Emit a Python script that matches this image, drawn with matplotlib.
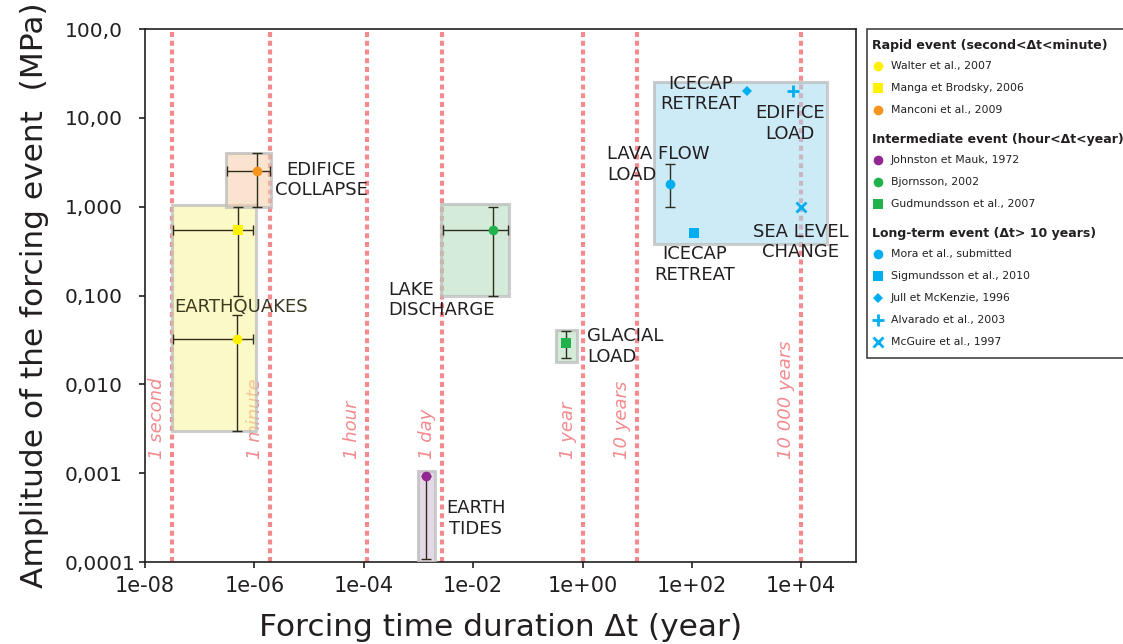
import numpy as np
import matplotlib
matplotlib.use('Agg')
from matplotlib import pyplot as plt
from matplotlib.patches import Rectangle
from matplotlib.ticker import NullLocator
import matplotlib.transforms as mtransforms

# data
# published forcing events (duration in years, amplitude in MPa)
refs = ['Walter et al., 2007', 'Manga et Brodsky, 2006', 'Manconi et al., 2009',
        'Johnston et Mauk, 1972', 'Bjornsson, 2002', 'Gudmundsson et al., 2007',
        'Mora et al., submitted', 'Sigmundsson et al., 2010', 'Jull et McKenzie, 1996',
        'Alvarado et al., 2003', 'McGuire et al., 1997']
ref_group = [0, 0, 0, 1, 1, 1, 2, 2, 2, 2, 2]
ref_marker = ['o', 's', 'o', 'o', 'o', 's', 'o', 's', 'D', '+', 'x']
ref_color = ['#fff200', '#fff200', '#f7941d', '#92278f', '#21b24b', '#21b24b',
             '#00aeef', '#00aeef', '#00aeef', '#00aeef', '#00aeef']
dt = [4.9e-7, 5e-7, 1.1e-6, 1.4e-3, 0.023, 0.5, 40, 110, 1000, 7000, 1e4]
amp = [0.032, 0.55, 2.5, 9.3e-4, 0.55, 0.029, 1.8, 0.5, 20, 20, 1.0]
dt_lo = [3.2e-8, 3.2e-8, 3.2e-7, np.nan, 2.8e-3, np.nan, np.nan, np.nan, np.nan, np.nan, np.nan]
dt_hi = [9.5e-7, 9.5e-7, 1.9e-6, np.nan, 0.043, np.nan, np.nan, np.nan, np.nan, np.nan, np.nan]
amp_lo = [0.003, 0.1, 1.0, 1.07e-4, 0.1, 0.02, 1.0, np.nan, np.nan, np.nan, np.nan]
amp_hi = [0.06, 1.0, 4.0, 9.3e-4, 1.0, 0.04, 3.0, np.nan, np.nan, np.nan, np.nan]

group_titles = ['Rapid event (second<\u0394t<minute)',
                'Intermediate event (hour<\u0394t<year)',
                'Long-term event (\u0394t> 10 years)']

# shaded domains
box_x0 = [3.1e-8, 3.0e-7, 2.6e-3, 0.33, 1.0e-3, 20]
box_x1 = [1.05e-6, 2.0e-6, 0.046, 0.79, 2.0e-3, 3.0e4]
box_y0 = [0.003, 1.0, 0.1, 0.018, 1.0e-4, 0.38]
box_y1 = [1.04, 4.0, 1.07, 0.041, 1.07e-3, 25]
box_face = ['#fbf59c', '#f8cea8', '#b1dcbc', '#b1dcbc', '#d3bad5', '#a4dbf2']

# reference durations
periods = ['1 second', '1 minute', '1 hour', '1 day', '1 year', '10 years', '10 000 years']
seconds_per_year = 365.25 * 86400
period_years = [1 / seconds_per_year, 60 / seconds_per_year, 3600 / seconds_per_year,
                1 / 365.25, 1, 10, 1e4]

# event names
event_labels = ['EDIFICE\nCOLLAPSE', 'EARTHQUAKES', 'LAKE\nDISCHARGE', 'GLACIAL\nLOAD',
                'EARTH\nTIDES', 'ICECAP\nRETREAT', 'EDIFICE\nLOAD', 'LAVA FLOW\nLOAD',
                'ICECAP\nRETREAT', 'SEA LEVEL\nCHANGE']
label_x = [1.65e-5, 5.7e-7, 2.76e-4, 1.23, 0.0112, 146, 6200, 2.8, 110, 9600]
label_y = [2.0, 0.075, 0.089, 0.0265, 3.1e-4, 18.5, 8.6, 2.97, 0.224, 0.40]
label_ha = ['center', 'center', 'left', 'left', 'center', 'center', 'center', 'left',
            'center', 'center']

xticks = [1e-8, 1e-6, 1e-4, 1e-2, 1, 1e2, 1e4]
xtick_labels = ['1e-08', '1e-06', '1e-04', '1e-02', '1e+00', '1e+02', '1e+04']
yticks = [1e-4, 1e-3, 1e-2, 1e-1, 1, 10, 100]
ytick_labels = ['0,0001', '0,001', '0,010', '0,100', '1,000', '10,00', '100,0']

ink = '#231f20'
salmon = '#f38a8e'
W, H = 1123, 644

fig = plt.figure(figsize=(W / 100, H / 100), dpi=100)
ax = fig.add_axes([145 / W, 1 - 562 / H, (856 - 145) / W, (562 - 29) / H])
ax.set_xscale('log')
ax.set_yscale('log')
ax.set_xlim(1e-8, 1e5)
ax.set_ylim(1e-4, 1e2)

# dotted reference durations
for name, p in zip(periods, period_years):
    ax.axvline(p, color=salmon, lw=3.0, linestyle=(0, (1.2, 0.9)), zorder=1)
    off = mtransforms.ScaledTranslation(-6 / 100, 0, fig.dpi_scale_trans)
    ax.text(p, 1.44e-3, name, rotation=90, ha='right', va='bottom', style='italic',
            fontsize=13, color=salmon, transform=ax.transData + off, zorder=1)

# shaded domains
for x0, x1, y0, y1, fc in zip(box_x0, box_x1, box_y0, box_y1, box_face):
    ax.add_patch(Rectangle((x0, y0), x1 - x0, y1 - y0, facecolor=fc, alpha=0.55,
                           edgecolor='none', zorder=3))
    ax.add_patch(Rectangle((x0, y0), x1 - x0, y1 - y0, facecolor='none',
                           edgecolor=(0.74, 0.74, 0.74, 0.75), lw=2.2, zorder=3))

# error bars
for i in range(len(refs)):
    if not np.isnan(dt_lo[i]):
        ax.errorbar(dt[i], amp[i], xerr=[[dt[i] - dt_lo[i]], [dt_hi[i] - dt[i]]], fmt='none',
                    ecolor='#2e2c1c', elinewidth=1, capsize=3.5, capthick=1, zorder=3.5)
    if not np.isnan(amp_lo[i]):
        ax.errorbar(dt[i], amp[i], yerr=[[amp[i] - amp_lo[i]], [amp_hi[i] - amp[i]]], fmt='none',
                    ecolor='#2e2c1c', elinewidth=1, capsize=3.5, capthick=1, zorder=3.5)

# markers
msize = {'o': 7, 's': 7, 'D': 5, '+': 9, 'x': 7}
for i in range(len(refs)):
    m = ref_marker[i]
    ax.plot(dt[i], amp[i], linestyle='none', marker=m, ms=msize[m], color=ref_color[i],
            mec=ref_color[i], mew=2 if m in '+x' else 0, zorder=4)

for txt, x, y, ha in zip(event_labels, label_x, label_y, label_ha):
    c = '#3a3a20' if txt == 'EARTHQUAKES' else ink
    ax.text(x, y, txt, ha=ha, va='center', fontsize=13, color=c, zorder=5)

# axes styling
ax.set_xticks(xticks)
ax.set_xticklabels(xtick_labels)
ax.set_yticks(yticks)
ax.set_yticklabels(ytick_labels)
ax.xaxis.set_minor_locator(NullLocator())
ax.yaxis.set_minor_locator(NullLocator())
ax.tick_params(axis='x', length=4, width=1.2, color=ink, labelsize=15, labelcolor=ink, pad=6)
ax.tick_params(axis='y', length=4, width=1.2, color=ink, labelsize=14.5, labelcolor=ink, pad=54)
for lbl in ax.get_yticklabels():
    lbl.set_horizontalalignment('left')
for s in ax.spines.values():
    s.set_color(ink)
    s.set_linewidth(1.2)
ax.set_xlabel('Forcing time duration \u0394t (year)', fontsize=22.5, color=ink, labelpad=12)
ax.set_ylabel('Amplitude of the forcing event  (MPa)', fontsize=22.5, color=ink, labelpad=11)

# legend panel, partly cut by the right edge of the figure
lax = fig.add_axes([0, 0, 1, 1], zorder=10)
lax.set_xlim(0, W)
lax.set_ylim(H, 0)
lax.axis('off')
lax.add_patch(Rectangle((866.5, 29), 300, 329, facecolor='white', edgecolor='#333333', lw=1.1))
y = 45
for g, title in enumerate(group_titles):
    lax.text(872, y, title, fontsize=9, fontweight='bold', color=ink, va='center', ha='left')
    y += 21
    for i in range(len(refs)):
        if ref_group[i] != g:
            continue
        m = ref_marker[i]
        lax.plot(877.5, y, linestyle='none', marker=m, ms=msize[m] * 1.0, color=ref_color[i],
                 mec=ref_color[i], mew=2 if m in '+x' else 0)
        lax.text(891, y, refs[i], fontsize=7.8, color=ink, va='center', ha='left')
        y += 22
    y += 7

fig.savefig('out.png', dpi=100)
